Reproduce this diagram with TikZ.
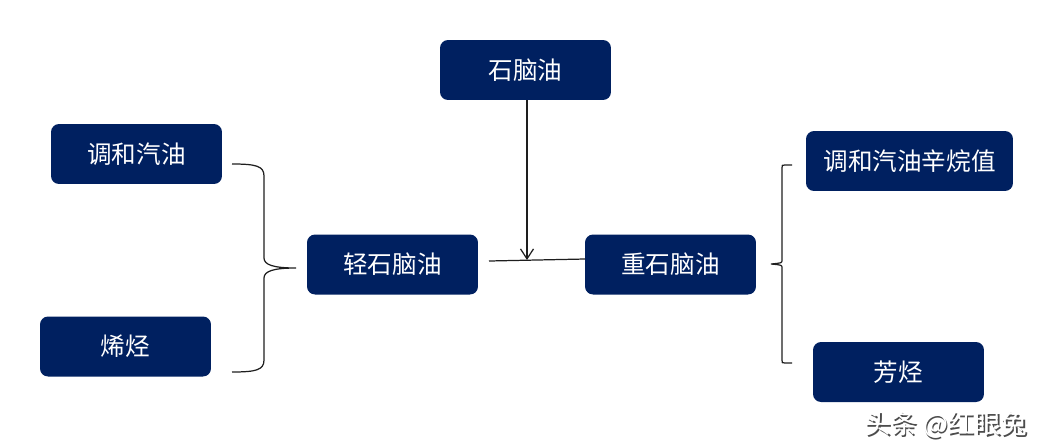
\documentclass[tikz,border=0pt]{standalone}
\usepackage{fontspec}
\setmainfont{Noto Sans CJK SC}
\usetikzlibrary{arrows.meta}
\definecolor{navy}{RGB}{0,32,96}
\definecolor{linegray}{RGB}{30,30,30}
\tikzset{
  box/.style={fill=navy, rounded corners=0.16cm, text=white, inner sep=0pt,
    minimum width=3.42cm, minimum height=1.2cm, font=\fontsize{14pt}{16pt}\selectfont},
  conn/.style={draw=linegray, line width=0.7pt},
  arr/.style={conn, -{Straight Barb[length=0.2cm,width=0.26cm]}},
  wmark/.style={font=\fontsize{15pt}{17pt}\selectfont},
}
\begin{document}
\begin{tikzpicture}[x=0.02cm,y=-0.02cm]
\useasboundingbox (0,0) rectangle (1045,447);
\node[box] (sny) at (525.5,70) {石脑油};
\node[box] (thqy) at (136.5,154) {调和汽油};
\node[box] (xt) at (125.5,346.5) {烯烃};
\node[box] (qsn) at (392.5,264.5) {轻石脑油};
\node[box] (zsn) at (670.5,264.5) {重石脑油};
\node[box, minimum width=4.14cm] (xwz) at (909.5,161) {调和汽油辛烷值};
\node[box] (fx) at (898.5,372) {芳烃};
% connectors
\coordinate (lineL) at (489,261);
\coordinate (lineR) at (585,259);
\coordinate (join) at (527,260);
\draw[conn] (lineL) -- (lineR);
\draw[arr] (sny.south -| join) -- (join);
% left brace
\coordinate (lbA) at (232,164);
\coordinate (lbT) at (296,268);
\coordinate (lbB) at (232,372);
\draw[conn] (lbA) .. controls (256,164) and (264,166) .. (264,176) -- (264,258)
  .. controls (264,265) and (274,268) .. (lbT)
  .. controls (274,268) and (264,271) .. (264,278) -- (264,360)
  .. controls (264,370) and (256,372) .. (lbB);
% right brace
\coordinate (rbA) at (792,165);
\coordinate (rbT) at (771,264);
\coordinate (rbB) at (792,363);
\draw[conn] (rbA) -- (785,165) .. controls (782,165) .. (782,168) -- (782,260)
  .. controls (782,263) .. (rbT)
  .. controls (782,265) .. (782,268) -- (782,360)
  .. controls (782,363) .. (785,363) -- (rbB);
% watermark
\node[wmark, text=black!70] at (947.5,426.5) {头条 @红眼兔};
\node[wmark, text=white] (wm) at (946,425) {头条 @红眼兔};
\end{tikzpicture}
\end{document}
